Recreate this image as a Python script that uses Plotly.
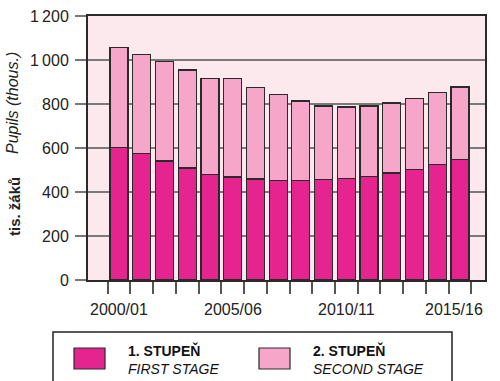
import plotly.graph_objects as go

years = ["2000/01", "2001/02", "2002/03", "2003/04", "2004/05", "2005/06", "2006/07", "2007/08",
         "2008/09", "2009/10", "2010/11", "2011/12", "2012/13", "2013/14", "2014/15", "2015/16"]
first_stage = [603, 576, 541, 509, 480, 468, 459, 453, 453, 457, 462, 471, 486, 503, 526, 548]
total = [1056, 1026, 992, 955, 915, 915, 874, 842, 814, 791, 786, 791, 805, 824, 851, 877]
second_stage = [t - f for t, f in zip(total, first_stage)]

y_tickvals = [0, 200, 400, 600, 800, 1000, 1200]
y_ticktext = ["0", "200", "400", "600", "800", "1\u2009000", "1\u2009200"]
x_labelled = ["2000/01", "2005/06", "2010/11", "2015/16"]

C1 = "#e62490"
C2 = "#f5a6c9"
BG = "#fce9ee"
OUT = "#2a2a2a"
FONT = "Liberation Sans, Arial, sans-serif"

fig = go.Figure()
fig.add_bar(x=years, y=first_stage, marker=dict(color=C1, line=dict(color=OUT, width=1.2)), name="1. STUPEŇ")
fig.add_bar(x=years, y=second_stage, marker=dict(color=C2, line=dict(color=OUT, width=1.2)), name="2. STUPEŇ")

# plot area in page pixels
L, R, T, B = 88, 485, 16, 280
W, H = 500, 381
def px(xp):
    return (xp - L) / (R - L)
def py(yp):
    return (B - yp) / (B - T)

fig.update_layout(
    width=W, height=H,
    margin=dict(l=L, r=W - R, t=T, b=H - B, autoexpand=False),
    barmode="stack", bargap=0.21,
    plot_bgcolor=BG, paper_bgcolor="white",
    showlegend=False, hovermode=False,
    font=dict(family=FONT, size=16, color="#222"),
)
fig.update_xaxes(
    type="category", automargin=False,
    tickmode="array", tickvals=years, ticktext=["" for _ in years],
    tickson="boundaries", ticks="outside", ticklen=12, tickwidth=1.5, tickcolor="#555",
    showline=True, linecolor=OUT, linewidth=2, mirror=True,
    showgrid=False,
)
fig.update_yaxes(
    range=[0, 1200], automargin=False,
    tickmode="array", tickvals=y_tickvals, ticktext=y_ticktext,
    ticks="outside", ticklen=11, tickwidth=1.5, tickcolor="#777",
    showgrid=True, gridcolor="#7a7a7a", gridwidth=1.5,
    zeroline=False, ticklabelstandoff=3,
    showline=True, linecolor=OUT, linewidth=2, mirror=True,
    tickfont=dict(family=FONT, size=16, color="#222"),
)

# x tick labels (every fifth school year)
for i, yr in enumerate(x_labelled):
    fig.add_annotation(text=yr, xref="x", yref="paper", x=yr, y=py(309),
                       xanchor="center", yanchor="middle", showarrow=False,
                       xshift=-6 if i == len(x_labelled) - 1 else 0,
                       font=dict(family=FONT, size=16, color="#222"))

# axis titles
fig.add_annotation(text="<b>tis. žáků</b>", textangle=-90, xref="paper", yref="paper",
                   x=px(14), y=py(207), xanchor="center", yanchor="middle", showarrow=False,
                   font=dict(family=FONT, size=15, color="#222"))
fig.add_annotation(text="<i>Pupils (thous.)</i>", textangle=-90, xref="paper", yref="paper",
                   x=px(12), y=py(103), xanchor="center", yanchor="middle", showarrow=False,
                   font=dict(family=FONT, size=16, color="#222"))

# custom legend
fig.add_shape(type="rect", xref="paper", yref="paper", x0=px(53), x1=px(452), y0=py(395), y1=py(332),
              line=dict(color="#222", width=1.5), fillcolor="white", layer="above")
legend_items = [(C1, 74, "1. STUPEŇ", "FIRST STAGE"), (C2, 259, "2. STUPEŇ", "SECOND STAGE")]
for color, sx, cz, en in legend_items:
    fig.add_shape(type="rect", xref="paper", yref="paper", x0=px(sx), x1=px(sx + 31), y0=py(369), y1=py(348),
                  line=dict(color=OUT, width=1.2), fillcolor=color, layer="above")
    fig.add_annotation(text=f"<b>{cz}</b>", xref="paper", yref="paper", x=px(sx + 53), y=py(359.5),
                       xanchor="left", yanchor="bottom", showarrow=False, borderpad=0,
                       font=dict(family=FONT, size=14, color="#111"))
    fig.add_annotation(text=f"<i>{en}</i>", xref="paper", yref="paper", x=px(sx + 53), y=py(359.5),
                       xanchor="left", yanchor="top", showarrow=False, borderpad=0,
                       font=dict(family=FONT, size=14, color="#111"))

fig.write_html("out.html", config={"displayModeBar": False},
               post_script="document.body.style.margin='0px';")
